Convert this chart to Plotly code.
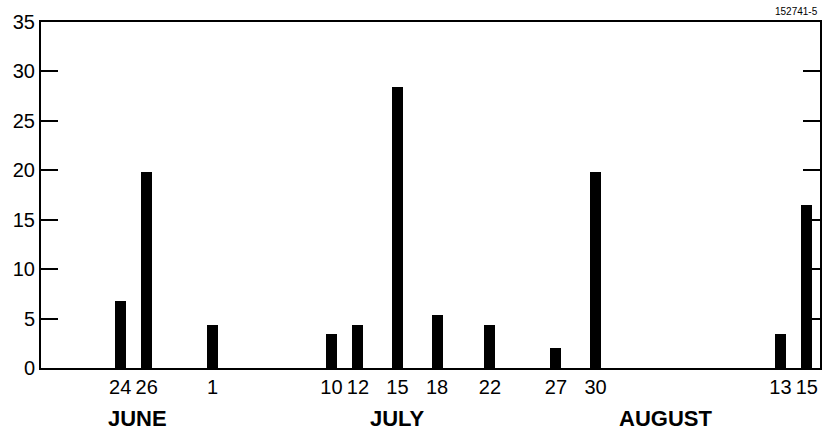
import plotly.graph_objects as go

# Data
dates = ["1985-06-24", "1985-06-26", "1985-07-01", "1985-07-10", "1985-07-12",
         "1985-07-15", "1985-07-18", "1985-07-22", "1985-07-27", "1985-07-30",
         "1985-08-13", "1985-08-15"]
values = [6.8, 19.8, 4.4, 3.4, 4.4, 28.4, 5.4, 4.4, 2.0, 19.8, 3.4, 16.5]
day_labels = ["24", "26", "1", "10", "12", "15", "18", "22", "27", "30", "13", "15"]
months = ["JUNE", "JULY", "AUGUST"]
month_centers = ["1985-06-25 07:00", "1985-07-15 00:00", "1985-08-04 07:00"]
y_ticks = [0, 5, 10, 15, 20, 25, 30, 35]
figure_id = "152741-5"

DAY_MS = 86400000

fig = go.Figure()
fig.add_trace(go.Bar(
    x=dates, y=values,
    width=[0.83 * DAY_MS] * len(dates),
    marker=dict(color="black", line=dict(width=0)),
    showlegend=False,
))

fig.update_layout(
    width=823, height=436,
    margin=dict(l=41, r=3, t=22, b=68, autoexpand=False),
    paper_bgcolor="white", plot_bgcolor="white",
    font=dict(family="Liberation Sans, Arial, sans-serif", color="black", size=20),
    xaxis=dict(
        type="date",
        range=["1985-06-18", "1985-08-16"],
        tickmode="array", tickvals=dates, ticktext=day_labels,
        ticks="", showgrid=False, zeroline=False,
        showline=True, linecolor="black", linewidth=2, mirror=True,
        tickfont=dict(size=20),
        ticklabelstandoff=0,
        automargin=False,
    ),
    yaxis=dict(
        range=[0, 35],
        tickmode="array", tickvals=y_ticks,
        ticks="inside", ticklen=17, tickwidth=2, tickcolor="black",
        showgrid=False, zeroline=False,
        showline=True, linecolor="black", linewidth=2, mirror="ticks",
        tickfont=dict(size=20),
        automargin=False,
    ),
    bargap=0,
)

for m, c in zip(months, month_centers):
    fig.add_annotation(x=c, y=-0.145, xref="x", yref="paper", text="<b>%s</b>" % m,
                       showarrow=False, font=dict(size=22, color="black"),
                       xanchor="center", yanchor="middle")

fig.add_annotation(x=1.0, y=1.0, xref="paper", yref="paper", text=figure_id,
                   showarrow=False, font=dict(size=10, color="black"),
                   xanchor="right", yanchor="bottom", yshift=3)

fig.write_html("out.html", config={"displayModeBar": False},
               post_script="document.body.style.margin='0';document.body.style.overflow='hidden';")
